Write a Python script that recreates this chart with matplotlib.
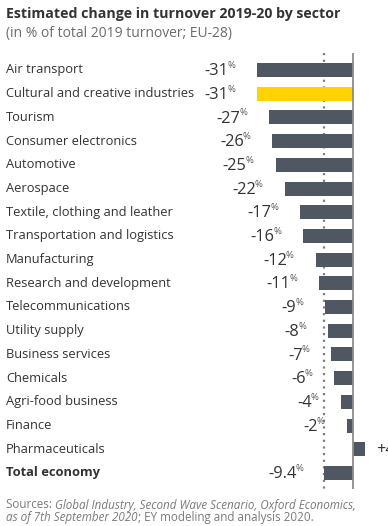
import matplotlib
matplotlib.use("Agg")
import matplotlib.pyplot as plt
from matplotlib import transforms

sectors = [
    "Air transport", "Cultural and creative industries", "Tourism", "Consumer electronics",
    "Automotive", "Aerospace", "Textile, clothing and leather", "Transportation and logistics",
    "Manufacturing", "Research and development", "Telecommunications", "Utility supply",
    "Business services", "Chemicals", "Agri-food business", "Finance", "Pharmaceuticals",
    "Total economy",
]
change = [-31, -31, -27, -26, -25, -22, -17, -16, -12, -11, -9, -8, -7, -6, -4, -2, 4, -9.4]
value_labels = ["-31", "-31", "-27", "-26", "-25", "-22", "-17", "-16", "-12", "-11",
                "-9", "-8", "-7", "-6", "-4", "-2", "+4", "-9.4"]
highlight = "Cultural and creative industries"
average = -9.4

GREY = "#4f5763"
YELLOW = "#ffd200"
TEXT = "#333333"
FONT = "Open Sans"

W, H = 388, 526
fig = plt.figure(figsize=(W / 100, H / 100), dpi=100)
ax = fig.add_axes([0, 0, 1, 1])
ax.axis("off")

# x: zero at pixel 353, ~3.1 px per percentage point
ppu = 3.1
ax.set_xlim(-353 / ppu, (W - 353) / ppu)
# y: row 0 centred at pixel 70, rows 23.7 px apart
step = 23.7
ax.set_ylim((H - 70) / step, -70 / step)

ys = list(range(len(sectors)))
colors = [YELLOW if s == highlight else GREY for s in sectors]
ax.barh(ys, change, height=14 / step, color=colors, zorder=2)

ax.vlines(0, -0.72, 17.7, color="#8c8c8c", linewidth=1.3, zorder=3)
ax.vlines(average, -0.72, 17.7, color="#7f7f7f", linewidth=1.6,
          linestyles=(0, (1, 2)), zorder=1)

left = transforms.blended_transform_factory(fig.transFigure, ax.transData)
for y, name in zip(ys, sectors):
    bold = name == "Total economy"
    ax.text(6 / W, y, name, transform=left, ha="left", va="center", fontsize=9.3,
            color=TEXT, family=FONT, fontweight="bold" if bold else "normal")

fig.canvas.draw()
renderer = fig.canvas.get_renderer()
for y, v, lab in zip(ys, change, value_labels):
    if v < 0:
        gap = -20 if lab == "-9.4" else -22
        pct = ax.annotate("%", (v, y), xytext=(gap * 0.72, 3.2), textcoords="offset points",
                          ha="right", va="center", fontsize=6.8, color="#555555", family=FONT)
        w = pct.get_window_extent(renderer).width * 0.72
        ax.annotate(lab, (v, y), xytext=(gap * 0.72 - w + 0.8, -0.8),
                    textcoords="offset points", ha="right", va="center", fontsize=11.8,
                    color=TEXT, family=FONT)
    else:
        # runs off the right edge, as in the source chart
        ax.annotate(lab + "%", (v, y), xytext=(11 * 0.72, -0.8), textcoords="offset points",
                    ha="left", va="center", fontsize=11.8, color=TEXT, family=FONT,
                    annotation_clip=False)

fig.text(6 / W, 1 - 14 / H, "Estimated change in turnover 2019-20 by sector", ha="left",
         va="center", fontsize=10.2, fontweight="bold", color=TEXT, family=FONT)
fig.text(6 / W, 1 - 33 / H, "(in % of total 2019 turnover; EU-28)", ha="left",
         va="center", fontsize=10, color="#6b6b6b", family=FONT)

# sources: mixed italic / regular pieces
source_lines = [
    [("Sources: ", "normal"), ("Global Industry, Second Wave Scenario, Oxford Economics,", "italic")],
    [("as of 7th September 2020", "italic"), ("; EY modeling and analysis 2020.", "normal")],
]
for i, pieces in enumerate(source_lines):
    x = 6 / W
    for txt, style in pieces:
        t = fig.text(x, 1 - (505 + i * 12.5) / H, txt, ha="left", va="center", fontsize=8.4,
                     color="#7a7a7a", family=FONT, style=style)
        bb = t.get_window_extent(renderer)
        x = bb.x1 / W

fig.savefig("out.png", dpi=100)
